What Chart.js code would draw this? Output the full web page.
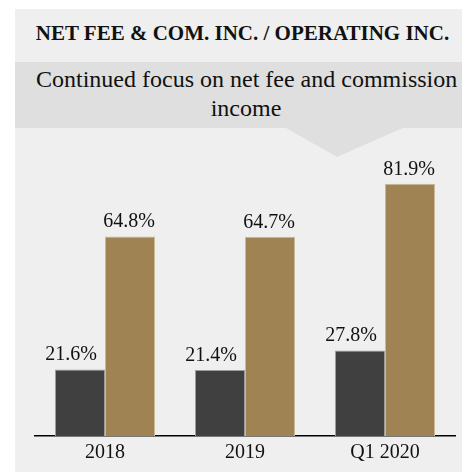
<!DOCTYPE html>
<html>
<head>
<meta charset="utf-8">
<script src="https://cdn.jsdelivr.net/npm/chart.js@4"></script>
<style>
  body { margin: 0; background: #fff; width: 462px; height: 473px; overflow: hidden; position: relative; }
  #panel { position: absolute; left: 15px; top: 9px; width: 447px; height: 463px; background: #efefef; }
  #band { position: absolute; left: 15px; top: 62px; width: 447px; height: 66px; background: #dfdfdf; }
  #arrow { position: absolute; left: 286px; top: 128px; width: 117px; height: 29px; background: #dfdfdf;
           clip-path: polygon(0 0, 100% 0, 43.6% 100%); }
  #title { position: absolute; left: 35px; top: 21px; width: 415px; text-align: center;
           font: bold 21px/24px "Liberation Serif", serif; color: #111; white-space: nowrap; }
  #subtitle { position: absolute; left: 36px; top: 65px; width: 420px; text-align: center;
              font: 24px/29px "Liberation Serif", serif; color: #111; white-space: nowrap; }
  #chart { position: absolute; left: 0; top: 0; }
</style>
</head>
<body>
<div id="panel"></div>
<div id="band"></div>
<div id="arrow"></div>
<div id="title">NET FEE &amp; COM. INC. / OPERATING INC.</div>
<div id="subtitle">Continued focus on net fee and commission<br>income</div>
<canvas id="chart" width="462" height="473"></canvas>
<script>
const categories = ['2018', '2019', 'Q1 2020'];
const feeShare = [21.6, 21.4, 27.8];
const feeComShare = [64.8, 64.7, 81.9];

// value labels above each bar
const barLabels = {
    id: 'barLabels',
    afterDatasetsDraw(chart) {
        const ctx = chart.ctx;
        ctx.save();
        ctx.font = '20px "Liberation Serif", serif';
        ctx.fillStyle = '#111';
        ctx.textAlign = 'center';
        ctx.textBaseline = 'alphabetic';
        chart.data.datasets.forEach(function (ds, i) {
            const meta = chart.getDatasetMeta(i);
            meta.data.forEach(function (bar, j) {
                ctx.fillText(ds.data[j].toFixed(1) + '%', bar.x + ds.labelShift, bar.y - 9);
            });
        });
        ctx.restore();
    }
};

new Chart(document.getElementById('chart').getContext('2d'), {
    type: 'bar',
    data: {
        labels: categories,
        datasets: [{
            data: feeShare,
            backgroundColor: '#404040',
            borderColor: '#9c9c9c',
            borderWidth: 1,
            labelShift: -9
        }, {
            data: feeComShare,
            backgroundColor: '#a08352',
            borderColor: '#cbb897',
            borderWidth: 1,
            labelShift: -1
        }]
    },
    options: {
        responsive: false,
        devicePixelRatio: 1,
        animation: false,
        layout: { padding: { left: 35, right: 7, top: 128, bottom: 3 } },
        datasets: { bar: { categoryPercentage: 0.7143, barPercentage: 1 } },
        plugins: { legend: { display: false }, tooltip: { enabled: false } },
        scales: {
            y: { display: false, min: 0, max: 100 },
            x: {
                grid: { display: false, drawTicks: false },
                border: { color: '#000', width: 1.5 },
                ticks: { color: '#111', padding: 10, font: { family: '"Liberation Serif", serif', size: 20, lineHeight: 0.7 } }
            }
        }
    },
    plugins: [barLabels]
});
</script>
</body>
</html>
